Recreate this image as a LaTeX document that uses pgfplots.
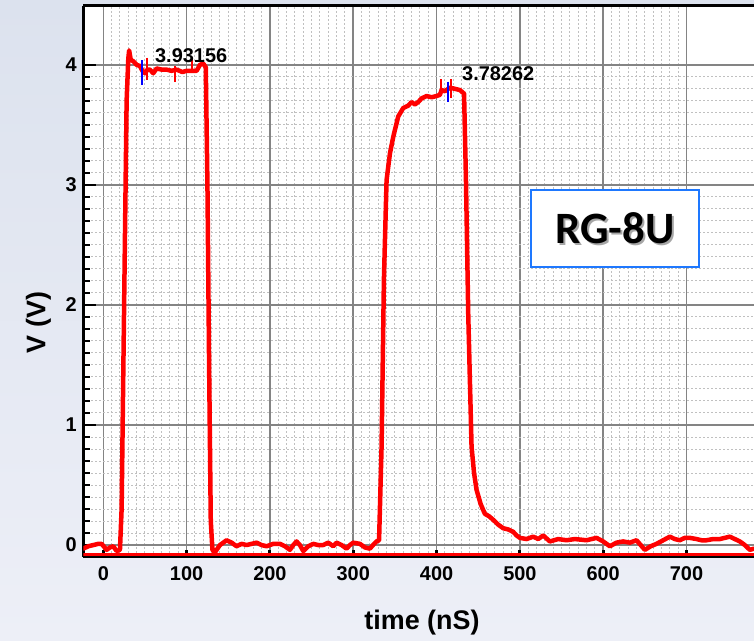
\documentclass[border=0pt]{standalone}
\usepackage{fontspec}
\setmainfont{Liberation Sans}
\newfontfamily\calib{Carlito}
\usepackage{pgfplots}
\pgfplotsset{compat=1.18}
\definecolor{bgtop}{RGB}{220,226,238}
\definecolor{bgbot}{RGB}{237,239,247}
\definecolor{bgmid}{RGB}{228,232,242}
\definecolor{boxblue}{RGB}{30,120,255}
\definecolor{majgrid}{RGB}{132,132,132}
\definecolor{mingrid}{RGB}{192,192,192}
\begin{document}
\begin{tikzpicture}
\fill[bgtop] (-83.3bp,-84.3bp) rectangle (670.7bp,556.7bp);
\shade[top color=bgtop, bottom color=bgbot] (-83.3bp,-84.3bp) rectangle (670.7bp,556.7bp);
\begin{axis}[
  at={(0,0)}, anchor=south west,
  scale only axis, width=670.7bp, height=550.7bp,
  xmin=-24, xmax=781, ymin=-0.097, ymax=4.49,
  axis background/.style={fill=white},
  axis x line=box, axis y line=left,
  xtick pos=bottom,
  axis line style={-, line width=3bp, black},
  xtick={0,100,...,700}, ytick={0,1,2,3,4},
  minor x tick num=9, minor y tick num=9,
  tick align=inside,
  grid=both,
  major grid style={majgrid, line width=1.5bp},
  minor grid style={mingrid, line width=1bp, dash pattern=on 2bp off 2bp},
  major x tick style={black, line width=3bp, /pgfplots/major tick length=7bp},
  minor x tick style={black, line width=2.5bp, /pgfplots/minor tick length=3bp},
  major y tick style={black, line width=2.5bp, /pgfplots/major tick length=13bp},
  minor y tick style={black, line width=2bp, /pgfplots/minor tick length=7bp},
  /pgf/number format/assume math mode=true,
  ticklabel style={font=\fontsize{20}{24}\selectfont\bfseries},
  xticklabel style={yshift=-6bp},
  yticklabel style={xshift=-3bp},
  xlabel={time (nS)}, ylabel={V (V)},
  xlabel style={font=\fontsize{27}{32}\selectfont\bfseries, at={(axis description cs:0.505,-0.1198)}, anchor=center},
  ylabel style={font=\fontsize{27}{32}\selectfont\bfseries, at={(axis description cs:-0.0671,0.425)}, anchor=center},
  clip=true,
]
\addplot[red, line width=2.5bp, forget plot] coordinates {(-24,-0.078) (781,-0.078)};
\addplot[red, line width=4.5bp, line join=round, line cap=round] coordinates {
(-24,-0.03) (-18,-0.01) (-12,0.0) (-6,0.01) (-2,0.01) (4,-0.04) (8,-0.02) (12,-0.01) (16,-0.05) (20,-0.04)
(22,0.3) (25,2.0) (28,3.7) (30,4.05) (31,4.12) (33,4.04) (36,4.03) (40,4.0) (44,3.99) (47,3.95) (50,3.93) (53,3.96) (56,3.96) (60,3.93) (64,3.97) (70,3.96) (76,3.96) (82,3.95) (88,3.96) (95,3.94) (100,3.95) (106,3.95) (112,3.95) (116,4.0) (120,4.01) (123,3.98)
(125,3.0) (127,1.5) (129,0.2) (131,-0.04) (134,-0.06) (140,0.0) (148,0.04) (154,0.02) (160,-0.01) (166,0.01) (172,0.0) (178,0.01) (184,0.02) (190,0.0) (196,-0.01) (204,0.01) (212,0.01) (218,-0.01) (224,-0.04) (228,0.0) (232,0.03) (236,0.0) (240,-0.05) (246,-0.01) (252,0.01) (258,0.0) (264,0.0) (270,0.02) (276,-0.01) (280,0.02) (286,0.0) (292,-0.03) (296,0.0) (300,0.02) (308,0.01) (314,-0.02) (320,-0.03) (325,0.01) (328,0.03) (331,0.04)
(334,0.82) (336.8,2.21) (340,3.04) (344,3.26) (348,3.40) (354,3.57) (360,3.64) (366,3.66) (370,3.69) (374,3.67) (378,3.69) (382,3.72) (388,3.74) (394,3.73) (400,3.74) (404,3.75) (406,3.79) (410,3.78) (416,3.81) (422,3.80) (428,3.79) (433,3.76)
(435.3,3.04) (438,1.93) (442,0.82) (445,0.60) (448,0.46) (453,0.34) (458,0.26) (463,0.24) (468,0.21) (474,0.17) (480,0.14) (486,0.13) (492,0.11) (496,0.08) (500,0.06) (508,0.05) (516,0.07) (522,0.05) (528,0.08) (536,0.03) (546,0.05) (556,0.04) (566,0.05) (580,0.04) (592,0.06) (600,0.03) (608,-0.01) (616,0.02) (624,0.03) (632,0.02) (640,0.04) (645,0.0) (650,-0.04) (657,-0.01) (664,0.01) (672,0.04) (680,0.07) (686,0.05) (692,0.04) (698,0.06) (704,0.06) (712,0.05) (718,0.04) (724,0.04) (732,0.05) (740,0.05) (746,0.06) (752,0.07) (758,0.05) (764,0.03) (770,0.0) (776,-0.04) (781,-0.03)
};
% red cursor spikes
\addplot[red, line width=1.8bp] coordinates {(52,4.06) (52,3.875)};
\addplot[red, line width=1.8bp] coordinates {(86,3.99) (86,3.86)};
\addplot[red, line width=1.8bp] coordinates {(106,4.06) (106,3.93)};
\addplot[red, line width=1.8bp] coordinates {(405,3.88) (405,3.74)};
\addplot[red, line width=1.8bp] coordinates {(417,3.88) (417,3.72)};
% blue markers
\addplot[blue, line width=2bp] coordinates {(46.5,4.04) (46.5,3.83)};
\addplot[blue, line width=2bp] coordinates {(414,3.86) (414,3.69)};
\node[anchor=west, inner sep=0pt, font=\fontsize{20}{24}\selectfont\bfseries] at (axis cs:62,4.08) {3.93156};
\node[anchor=west, inner sep=0pt, font=\fontsize{20}{24}\selectfont\bfseries] at (axis cs:430.5,3.93) {3.78262};
\node[draw=boxblue, fill=white, line width=1.8bp, minimum width=168bp, minimum height=77bp] at (axis cs:614,2.64) {};
\node[text=black!35, font=\fontsize{45}{54}\calib\bfseries] at ([xshift=2bp,yshift=-2.5bp]axis cs:614,2.64) {RG-8U};
\node[text=black, font=\fontsize{45}{54}\calib\bfseries] at (axis cs:614,2.64) {RG-8U};
\end{axis}
\pgfresetboundingbox
\useasboundingbox (-83.3bp,-84.3bp) rectangle (670.7bp,556.7bp);
\end{tikzpicture}
\end{document}
